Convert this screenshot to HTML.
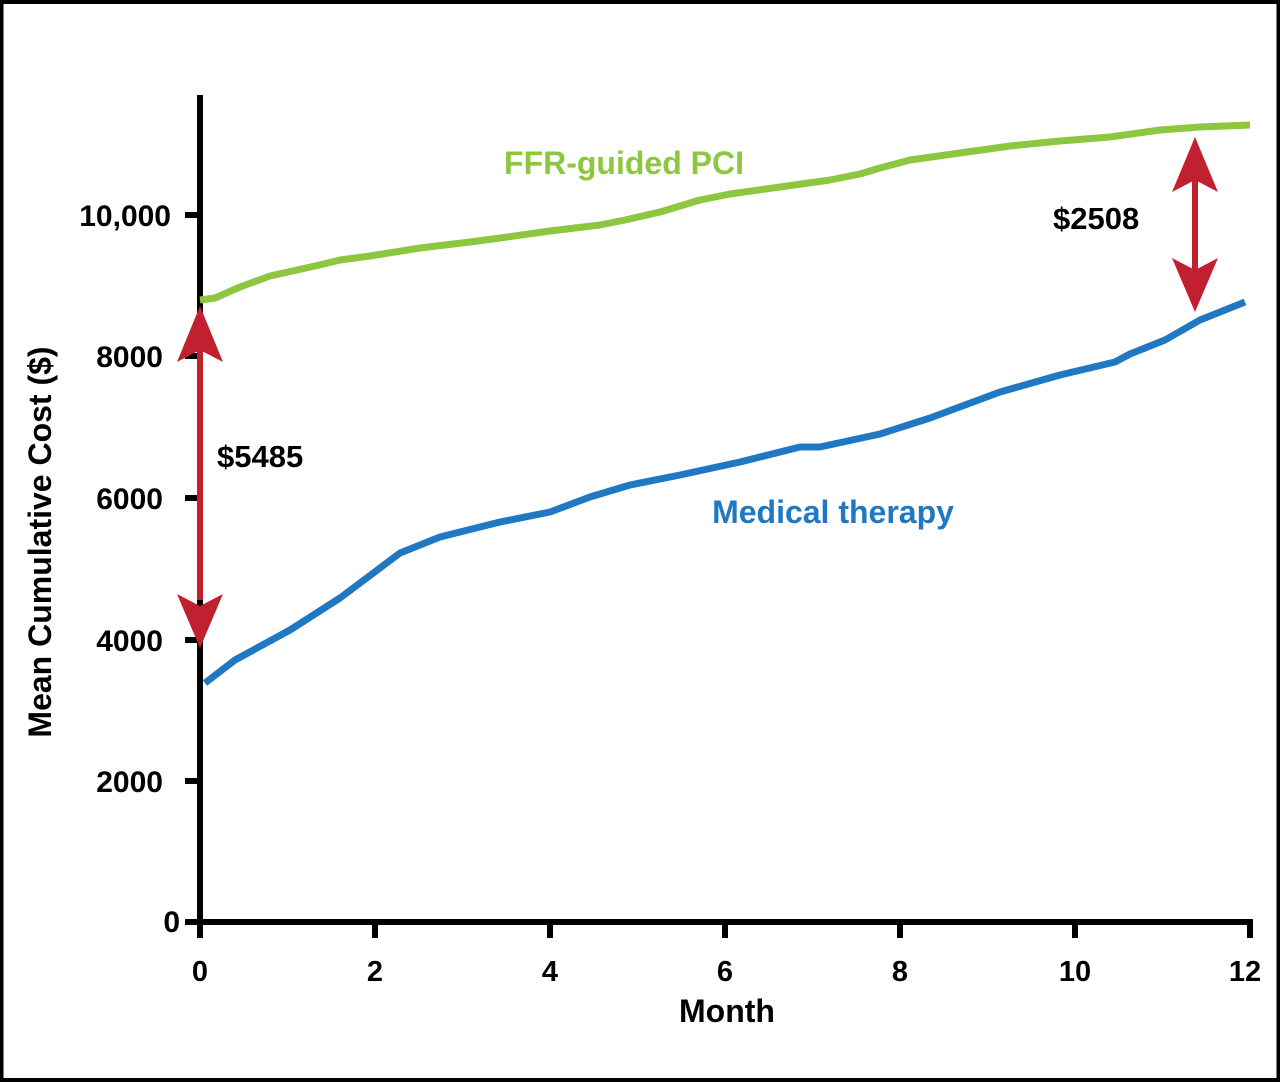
<!DOCTYPE html>
<html><head><style>body{margin:0;background:#fff}svg{display:block}</style></head><body>
<svg width="1280" height="1082" viewBox="0 0 1280 1082" font-family="Liberation Sans, Arial, sans-serif" font-weight="bold">
<rect x="1.5" y="2" width="1277" height="1078" fill="#fff" stroke="#000" stroke-width="4"/>
<g stroke="#000" stroke-width="6" fill="none">
<line x1="200" y1="95" x2="200" y2="925"/>
<line x1="185" y1="922" x2="1253" y2="922"/>
<line x1="185" y1="215" x2="200" y2="215"/><line x1="185" y1="356" x2="200" y2="356"/>
<line x1="185" y1="498" x2="200" y2="498"/><line x1="185" y1="640" x2="200" y2="640"/>
<line x1="185" y1="781" x2="200" y2="781"/>
<line x1="200" y1="922" x2="200" y2="938"/><line x1="375" y1="922" x2="375" y2="938"/>
<line x1="550" y1="922" x2="550" y2="938"/><line x1="725" y1="922" x2="725" y2="938"/>
<line x1="900" y1="922" x2="900" y2="938"/><line x1="1075" y1="922" x2="1075" y2="938"/>
<line x1="1250" y1="922" x2="1250" y2="938"/>
</g>
<g font-size="30" text-anchor="end" fill="#000">
<text x="171" y="226">10,000</text><text x="163" y="367">8000</text><text x="163" y="509">6000</text>
<text x="163" y="651">4000</text><text x="163" y="792">2000</text><text x="180" y="932">0</text>
</g>
<g font-size="29" text-anchor="middle" fill="#000">
<text x="200" y="981">0</text><text x="375" y="981">2</text><text x="550" y="981">4</text><text x="725" y="981">6</text>
<text x="900" y="981">8</text><text x="1075" y="981">10</text><text x="1245" y="981">12</text>
<text x="727" y="1022" font-size="32">Month</text>
<text transform="translate(51,542) rotate(-90)" font-size="32">Mean Cumulative Cost ($)</text>
</g>
<polyline fill="none" stroke="#8dc63f" stroke-width="7" stroke-linejoin="round" points="200,300 215,298 240,287 270,276 315,266 340,260 370,256 420,248 470,242 500,238 550,231 600,225 625,220 660,212 700,200 730,194 780,187 830,180 860,174 880,168 910,160 960,153 1010,146 1060,141 1110,137 1160,130 1200,127 1250,125"/>
<polyline fill="none" stroke="#1f78c1" stroke-width="7" stroke-linejoin="round" points="205,683 235,660 290,630 340,598 380,568 400,553 440,537 500,522 550,512 590,497 630,485 680,475 740,462 800,447 820,447 880,434 930,418 1000,392 1060,375 1115,362 1130,354 1165,340 1200,320 1245,302"/>
<g fill="#c0202f">
<rect x="197" y="350" width="6" height="250"/>
<polygon points="200,306 223,362 200,350 177,362"/>
<polygon points="200,648 223,594 200,606 177,594"/>
<rect x="1192" y="180" width="6" height="90"/>
<polygon points="1195,137 1218,192 1195,180 1172,192"/>
<polygon points="1195,312 1218,258 1195,270 1172,258"/>
</g>
<text x="624" y="174" font-size="32" fill="#8dc63f" text-anchor="middle">FFR-guided PCI</text>
<text x="833" y="523" font-size="32" fill="#1f78c1" text-anchor="middle">Medical therapy</text>
<text x="217" y="467" font-size="31" fill="#000">$5485</text>
<text x="1053" y="229" font-size="31" fill="#000">$2508</text>
</svg>
</body></html>
